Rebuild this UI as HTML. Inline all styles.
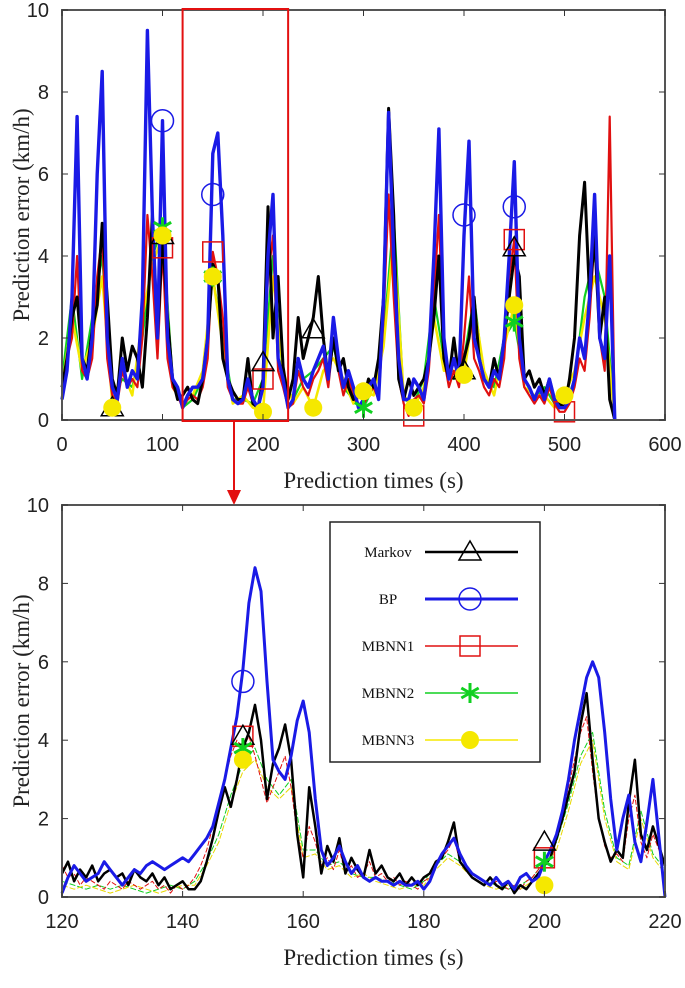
<!DOCTYPE html>
<html><head><meta charset="utf-8"><style>
body{margin:0;background:#fff;width:685px;height:983px;overflow:hidden}
svg text{font-family:"Liberation Sans",sans-serif}
.t{font-size:20px;fill:#222}
.ti{font-family:"Liberation Serif",serif !important;font-size:23px;fill:#222}
</style></head><body>
<svg id="s" width="685" height="983" xmlns="http://www.w3.org/2000/svg"></svg>
<script>
// ---- data: top chart (0..550 s) ----
const topBlue=[0.5,1.2,3.0,7.4,1.5,1.0,2.0,6.0,8.5,2.0, 0.8,0.5,1.5,0.8,1.2,1.0,3.0,9.5,5.0,2.0, 7.3,2.0,1.0,0.8,0.3,0.6,0.8,0.8,1.0,2.0, 6.5,7.0,4.5,1.0,0.5,0.4,0.5,1.0,0.5,0.3, 0.8,4.0,5.5,1.5,1.0,0.3,0.5,1.5,1.0,0.8, 1.2,1.5,1.8,1.0,2.5,1.5,0.8,1.2,0.8,0.3, 0.5,0.8,1.0,0.5,3.0,7.5,4.0,1.5,0.5,0.5, 1.0,0.8,0.5,1.5,4.0,7.1,2.0,1.0,1.5,1.0, 4.5,6.8,2.0,1.5,1.0,0.8,1.2,1.0,2.0,4.0, 6.3,2.0,1.0,0.8,0.5,0.8,0.5,1.0,0.5,0.3, 0.3,0.5,1.0,2.0,1.5,3.0,5.5,2.0,1.5,4.0, 0];
const topBlack=[0.8,1.5,2.5,3.0,1.5,1.2,2.2,2.8,4.8,3.0, 1.0,0.6,2.0,1.2,1.8,1.5,0.8,2.5,5.0,2.0, 4.5,2.5,1.0,0.5,0.6,0.8,0.5,0.4,1.0,2.0, 3.8,3.5,1.5,1.0,0.7,0.5,0.5,1.5,0.4,0.3, 1.0,5.2,2.0,3.5,1.3,0.5,1.0,2.5,1.5,2.0, 2.5,3.5,2.0,1.0,2.0,1.2,1.5,0.8,0.5,0.8, 0.5,1.0,0.8,1.5,3.0,7.6,5.0,1.0,0.5,1.0, 0.6,0.8,1.0,1.5,2.5,4.0,1.5,1.0,2.0,1.0, 1.5,2.0,3.0,1.5,1.0,0.8,1.5,1.0,2.0,3.0, 4.0,3.5,1.0,1.2,0.8,1.0,0.6,1.0,0.5,0.4, 0.3,1.0,2.0,4.5,5.8,3.0,4.5,2.0,3.0,0.5, 0];
const topRed=[0.8,1.5,2.0,4.0,1.2,1.0,1.5,3.5,4.5,1.5, 0.6,0.4,1.2,0.8,1.0,0.8,2.0,5.0,3.5,1.5, 4.2,1.5,0.8,0.6,0.3,0.5,0.6,0.5,0.8,1.5, 4.1,3.5,2.5,0.8,0.5,0.4,0.4,0.8,0.4,0.3, 1.0,3.5,4.5,1.2,0.8,0.3,0.4,1.2,0.8,0.6, 1.0,1.2,1.5,0.8,2.0,1.2,0.6,1.0,0.6,0.3, 0.4,0.6,0.8,0.5,2.5,5.5,3.0,1.0,0.4,0.1, 0.5,0.6,0.4,1.2,3.0,5.0,1.5,0.8,1.2,0.8, 2.0,3.5,1.5,1.2,0.8,0.6,1.0,0.8,1.5,3.5, 4.4,1.5,0.8,0.6,0.4,0.6,0.4,0.8,0.4,0.2, 0.2,0.4,0.8,1.5,1.2,2.5,4.5,2.0,1.2,7.4, 0];
const topGreen=[1,3,1,2.5,4,0.5,1,0.8,2,4, 4.7,1,0.3,0.5,1,3.5,2,0.5,0.5,0.4, 1,4,1,0.5,1,1.2,1.5,1.8,0.8,0.5, 0.3,0.8,2,5,0.5,0.4,1,3,1.5,1, 1.5,3,1,0.8,2,2.4,1,0.5,0.8,0.4, 0.3,1,3,4,3,0];
const topYellow=[0.8,2.5,1.2,2,3.5,0.4,1.2,0.6,2.5,3.8, 4.5,0.8,0.4,0.6,1.2,3.5,1.8,0.4,0.6,0.3, 0.2,3.5,1.2,0.4,0.8,0.3,1.2,1.5,1,0.4, 0.7,0.6,1.8,4.5,0.6,0.3,0.8,2.5,1.2,1.2, 1.1,2.8,1.2,0.6,1.8,2.8,0.8,0.6,0.6,0.3, 0.6,1.2,2.5,3.5,2.5,0];
const topXTicks=[0,100,200,300,400,500,600];
const yTicks=[0,2,4,6,8,10];
const topMarkBP=[[100,7.3],[150,5.5],[400,5.0],[450,5.2]];
const topMarkM1=[[100,4.2],[150,4.1],[200,1.0],[350,0.1],[450,4.4],[500,0.2]];
const topMarkMk=[[50,0.3],[100,4.5],[200,1.4],[250,2.2],[400,1.2],[450,4.2]];
const topMarkM2=[[100,4.7],[150,3.5],[300,0.3],[450,2.4]];
const topMarkM3=[[50,0.3],[100,4.5],[150,3.5],[200,0.2],[250,0.3],[300,0.7],[350,0.3],[400,1.1],[450,2.8],[500,0.6]];
// ---- data: bottom chart (120..220 s) ----
const botBlue=[0.1,0.5,0.8,0.6,0.4,0.5,0.6,0.9,0.7,0.5, 0.3,0.5,0.7,0.6,0.8,0.9,0.8,0.7,0.8,0.9, 1.0,0.9,1.1,1.3,1.5,1.8,2.4,3.0,3.8,4.6, 5.8,7.5,8.4,7.8,5.5,3.5,3.2,3.0,3.6,4.5, 5.0,4.2,2.5,1.2,0.8,1.0,1.3,0.9,0.6,0.8, 0.5,0.4,0.5,0.4,0.4,0.3,0.4,0.3,0.3,0.4, 0.2,0.4,0.8,1.1,1.3,1.5,1.1,0.8,0.6,0.5, 0.4,0.3,0.5,0.3,0.4,0.2,0.5,0.6,0.4,0.5, 0.9,1.2,1.6,2.2,3.0,4.0,4.8,5.6,6.0,5.6, 4.2,2.5,1.2,2.0,2.6,1.4,0.9,1.9,3.0,1.5, 0.0];
const botBlack=[0.6,0.9,0.4,0.7,0.5,0.8,0.4,0.6,0.7,0.5, 0.6,0.3,0.7,0.5,0.4,0.6,0.3,0.5,0.2,0.3, 0.4,0.2,0.2,0.4,0.9,1.5,2.2,2.8,2.3,3.0, 3.8,4.2,4.9,4.0,2.5,3.4,3.8,4.4,3.5,1.6, 0.5,2.8,1.8,0.6,1.3,0.9,1.5,0.6,1.0,0.7, 0.5,1.2,0.6,0.8,0.5,0.4,0.6,0.3,0.5,0.3, 0.5,0.6,0.9,1.0,1.4,1.9,0.9,0.7,0.5,0.4, 0.3,0.5,0.3,0.2,0.4,0.1,0.3,0.2,0.4,0.6, 0.8,1.0,1.5,2.0,2.6,3.2,4.4,5.2,3.5,2.0, 1.4,0.9,1.2,1.0,2.4,3.5,1.6,1.2,1.8,1.3, 0.8];
const botRed=[0.8,0.5,0.6,0.3,0.5,0.4,0.3,0.2,0.4,0.3, 0.2,0.4,0.3,0.2,0.3,0.4,0.2,0.3,0.1,0.3, 0.2,0.3,0.5,0.8,1.2,1.8,2.4,3.0,3.6,4.0, 3.8,4.1,3.6,3.0,2.4,2.8,3.2,3.6,2.8,1.6, 1.0,1.8,1.4,0.8,1.0,0.7,1.2,0.6,0.8,0.5, 0.6,0.9,0.5,0.6,0.4,0.5,0.3,0.4,0.3,0.2, 0.4,0.5,0.8,1.0,1.2,1.5,0.9,0.7,0.6,0.5, 0.4,0.3,0.4,0.3,0.2,0.3,0.2,0.4,0.5,0.7, 0.9,1.2,1.6,2.1,2.8,3.5,4.2,4.6,3.2,2.0, 1.3,1.0,1.1,0.9,2.0,2.6,1.4,1.0,1.6,1.2, 0.8];
const botGreen=[0.4,0.3,0.2,0.3,0.2,0.3,0.2,0.1,0.2,0.3, 0.2,0.4,0.9,1.6,2.6,3.4,3.8,3.0,2.6,3.0, 1.2,1.2,0.8,0.9,0.6,0.5,0.5,0.4,0.3,0.2, 0.4,0.8,1.1,0.9,0.6,0.4,0.3,0.2,0.3,0.5, 0.9,1.4,2.4,3.6,4.2,2.2,1.0,0.8,2.2,1.1, 0.7];
const botYellow=[0.3,0.2,0.3,0.2,0.1,0.2,0.3,0.2,0.1,0.2, 0.3,0.3,0.8,1.4,2.4,3.2,3.5,2.8,2.5,2.8, 1.0,1.1,0.7,0.8,0.5,0.6,0.4,0.3,0.2,0.3, 0.3,0.7,1.0,0.8,0.5,0.3,0.2,0.3,0.2,0.4, 0.8,1.2,2.2,3.4,4.0,2.0,0.9,0.7,2.0,1.0, 0.6];
const botXTicks=[120,140,160,180,200,220];
const botMarkBP=[[150,5.5]];
const botMarkM1=[[150,4.1],[200,1.0]];
const botMarkMk=[[150,4.1],[200,1.4]];
const botMarkM2=[[150,3.8],[200,0.9]];
const botMarkM3=[[150,3.5],[200,0.3]];
const legendNames=["Markov","BP","MBNN1","MBNN2","MBNN3"];

const S=document.getElementById('s');
const NS="http://www.w3.org/2000/svg";
function mk(tag,attrs,parent){const e=document.createElementNS(NS,tag);for(const k in attrs)e.setAttribute(k,attrs[k]);(parent||S).appendChild(e);return e;}
const COL={mk:'#000',bp:'#1a1ae6',m1:'#e01010',m2:'#10d020',m3:'#f5e800'};

function chart(name,L,R,T,B,x0,x1,xTicks){
  const g=mk('g',{});
  
  
  const sx=v=>L+(v-x0)/(x1-x0)*(R-L), sy=v=>B-(v/10)*(B-T);
  return {g,sx,sy,L,R,T,B,xTicks};
}
function axes(c){
  const ax=mk('g',{},c.g);
  
  
  mk('rect',{x:c.L,y:c.T,width:c.R-c.L,height:c.B-c.T,fill:'none',stroke:'#555','stroke-width':2},ax);
  c.xTicks.forEach(v=>{
    const x=c.sx(v);
    mk('line',{x1:x,x2:x,y1:c.B,y2:c.B-6,stroke:'#333'},ax);
    mk('line',{x1:x,x2:x,y1:c.T,y2:c.T+6,stroke:'#333'},ax);
    const t=mk('text',{x:x,y:c.B+31,'text-anchor':'middle',class:'t'},ax);t.textContent=v;
    
    
  });
  yTicks.forEach(v=>{
    const y=c.sy(v);
    mk('line',{x1:c.L,x2:c.L+6,y1:y,y2:y,stroke:'#333'},ax);
    mk('line',{x1:c.R,x2:c.R-6,y1:y,y2:y,stroke:'#333'},ax);
    const t=mk('text',{x:c.L-13,y:y+7,'text-anchor':'end',class:'t'},ax);t.textContent=v;
    
    
  });
}
function series(c,vals,start,step,color,w,name,dash){
  const pts=vals.map((v,i)=>c.sx(start+i*step).toFixed(1)+','+c.sy(v).toFixed(1)).join(' ');
  const p=mk('polyline',{points:pts,fill:'none',stroke:color,'stroke-width':w,'stroke-linejoin':'round'},c.g);
  if(dash)p.setAttribute('stroke-dasharray',dash);
  
  
}
function marker(parent,type,x,y){
  let e;
  if(type==='bp')e=mk('circle',{cx:x,cy:y,r:11,fill:'none',stroke:COL.bp,'stroke-width':1.5},parent);
  else if(type==='m1')e=mk('rect',{x:x-10,y:y-10,width:20,height:20,fill:'none',stroke:COL.m1,'stroke-width':1.5},parent);
  else if(type==='mk')e=mk('polygon',{points:`${x},${y-11} ${x-11},${y+8} ${x+11},${y+8}`,fill:'none',stroke:'#000','stroke-width':1.5},parent);
  else if(type==='m2'){e=mk('g',{},parent);[0,60,120].forEach(a=>{const r=a*Math.PI/180;mk('line',{x1:x-10*Math.sin(r),y1:y-10*Math.cos(r),x2:x+10*Math.sin(r),y2:y+10*Math.cos(r),stroke:COL.m2,'stroke-width':3},e);});}
  else e=mk('circle',{cx:x,cy:y,r:9,fill:COL.m3},parent);
  
  
}
function markers(c,list,type){list.forEach(p=>marker(c.g,type,c.sx(p[0]),c.sy(p[1])));}

// Top chart
const A=chart('overview-chart',62,665,10,420,0,600,topXTicks);
series(A,topGreen,0,10,COL.m2,2.2,'mbnn2-line-top');
series(A,topYellow,0,10,COL.m3,2.5,'mbnn3-line-top');
series(A,topRed,0,5,COL.m1,2.2,'mbnn1-line-top');
series(A,topBlack,0,5,'#000',3,'markov-line-top');
series(A,topBlue,0,5,COL.bp,3.4,'bp-line-top');
markers(A,topMarkBP,'bp');markers(A,topMarkM1,'m1');markers(A,topMarkMk,'mk');markers(A,topMarkM2,'m2');markers(A,topMarkM3,'m3');
axes(A);
const zb=mk('rect',{x:A.sx(120),y:9,width:A.sx(225)-A.sx(120),height:412,fill:'none',stroke:'#e31010','stroke-width':2});


const ar=mk('g',{});


mk('line',{x1:234,x2:234,y1:421,y2:493,stroke:'#e31010','stroke-width':2},ar);
mk('polygon',{points:'227,490 241,490 234,505',fill:'#e31010'},ar);

// Bottom chart
const Bc=chart('zoom-chart',62,665,505,897,120,220,botXTicks);
series(Bc,botGreen,120,2,COL.m2,1,'mbnn2-line',"6,2");
series(Bc,botYellow,120,2,'#e8d800',1,'mbnn3-line',"6,2");
series(Bc,botRed,120,1,COL.m1,1,'mbnn1-line',"5,2");
series(Bc,botBlack,120,1,'#000',2.5,'markov-line');
series(Bc,botBlue,120,1,COL.bp,3,'bp-line');
markers(Bc,botMarkBP,'bp');markers(Bc,botMarkM1,'m1');markers(Bc,botMarkMk,'mk');markers(Bc,botMarkM2,'m2');markers(Bc,botMarkM3,'m3');
axes(Bc);

// Legend
const lg=mk('g',{});


mk('rect',{x:330,y:522,width:210,height:240,fill:'#fff',stroke:'#222','stroke-width':1.5},lg);
const lkeys=['mk','bp','m1','m2','m3'], lcol=['#000',COL.bp,COL.m1,COL.m2,COL.m3], lw=[2.5,3,1.5,1.5,1.5];
legendNames.forEach((n,i)=>{
  const y=552+i*47;
  const e=mk('g',{},lg);
  
  
  const t=mk('text',{x:388,y:y+5,'text-anchor':'middle',style:'font-family:"Liberation Serif",serif;font-size:15px',fill:'#111'},e);t.textContent=n;
  mk('line',{x1:425,x2:518,y1:y,y2:y,stroke:lcol[i],'stroke-width':lw[i]},e);
  marker(e,lkeys[i],470,y);
});

// Titles
[[A,'top'],[Bc,'bottom']].forEach(([c,k])=>{
  const xt=mk('text',{x:(c.L+c.R)/2+10,y:c.B+68,'text-anchor':'middle',class:'ti'});xt.textContent='Prediction times (s)';
  
  
  const cy=(c.T+c.B)/2;
  const yt=mk('text',{x:22,y:cy,'text-anchor':'middle',class:'ti',transform:`rotate(-90 22 ${cy})`,dy:'7'});yt.textContent='Prediction error (km/h)';
  
  
});
</script>
</body></html>
